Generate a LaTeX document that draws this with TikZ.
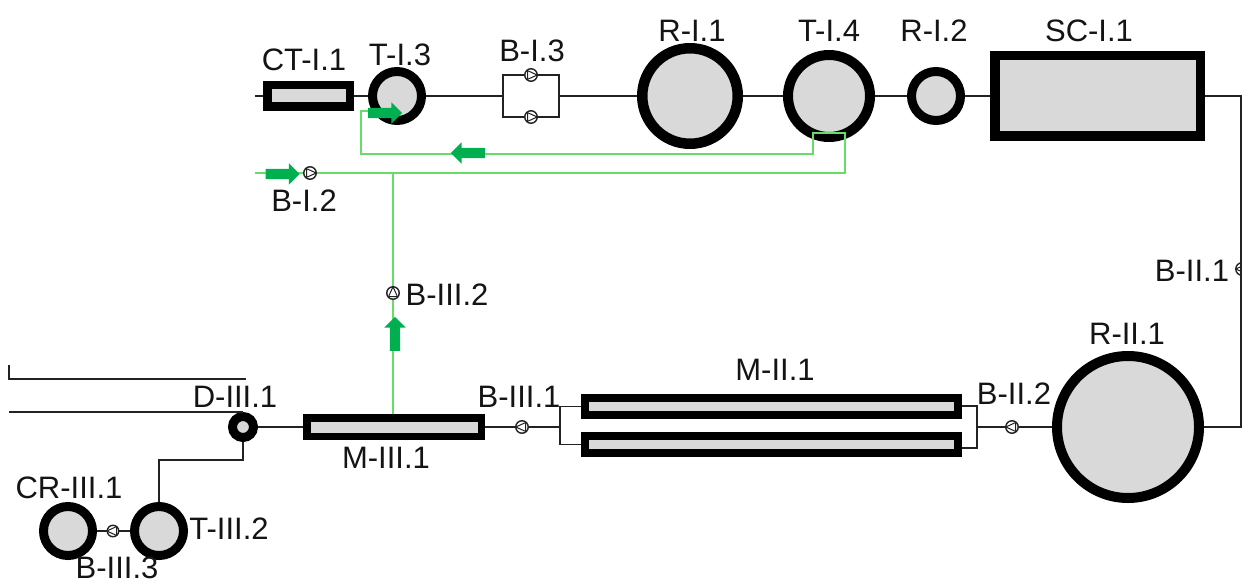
\documentclass[tikz,border=0pt]{standalone}
\usepackage{fontspec}
\setmainfont{Liberation Sans}
\usetikzlibrary{shapes.arrows,calc}
\definecolor{fillgray}{HTML}{D9D9D9}
\definecolor{pipegreen}{HTML}{66DD66}
\definecolor{arrowgreen}{HTML}{00B050}
\definecolor{pipedark}{HTML}{222222}
\tikzset{
  vessel/.style={circle,draw=black,fill=fillgray,inner sep=0pt,line width=#1},
  vessel/.default=9pt,
  tank/.style={rectangle,draw=black,fill=fillgray,inner sep=0pt,line width=#1},
  tank/.default=8.5pt,
  pump/.style={rotate=#1,circle,draw=pipedark,fill=white,inner sep=0pt,line width=1.4pt,minimum size=12.5pt,
    path picture={\draw[line width=1pt,pipedark]
      ($(path picture bounding box.center)+(-3.5,4.4)$)--($(path picture bounding box.center)+(6.2,0)$)--($(path picture bounding box.center)+(-3.5,-4.4)$)--cycle;}},
  pipe/.style={draw=pipedark,line width=1.5pt},
  greenpipe/.style={draw=pipegreen,line width=2.4pt},
  flowarrow/.style={single arrow,fill=arrowgreen,inner sep=5pt,minimum width=21pt,minimum height=34pt,
    single arrow head extend=5.5pt,single arrow head indent=0pt},
  lab/.style={inner sep=0pt,text=black!92,font=\fontsize{31}{36}\selectfont},
}
\begin{document}
\begin{tikzpicture}[x=1pt,y=-1pt]
\useasboundingbox (0,0) rectangle (1242,583);
\clip (0,0) rectangle (1242,583);
\fill[white] (0,0) rectangle (1242,583);
% equipment
\node[tank,minimum width=82.5pt,minimum height=21.5pt] (CT) at (308.5,96) {};
\node[vessel,minimum size=49pt] (TI3) at (397,96) {};
\node[pump=0] (BI3a) at (531,75) {};
\node[pump=0] (BI3b) at (531,117) {};
\node[vessel=10.5pt,minimum size=95.5pt] (RI1) at (690,96) {};
\node[vessel=10pt,minimum size=82pt] (TI4) at (829,96) {};
\node[vessel,minimum size=49pt] (RI2) at (936,96) {};
\node[tank=9.5pt,minimum width=205.5pt,minimum height=80.5pt] (SC) at (1097.5,96) {};
\node[pump=0] (BI2) at (310,173) {};
\node[pump=90] (BIII2) at (393,293) {};
\node[pump=180] (BII1) at (1242,269) {};
\node[vessel=10pt,minimum size=142pt] (RII1) at (1128,427) {};
\node[pump=180] (BII2) at (1012,427) {};
\node[tank=8pt,minimum width=373pt,minimum height=17pt] (MIIa) at (771.5,406.5) {};
\node[tank=8pt,minimum width=373pt,minimum height=17pt] (MIIb) at (771.5,444.5) {};
\node[pump=180] (BIII1) at (522,427) {};
\node[tank=7.5pt,minimum width=174.5pt,minimum height=18.5pt] (MIII) at (394,427) {};
\node[vessel,minimum size=21pt] (DIII) at (243,427) {};
\node[vessel,minimum size=49pt] (TIII2) at (159,531) {};
\node[vessel,minimum size=49pt] (CRIII) at (68,531) {};
\node[pump=180,minimum size=11.5pt] (BIII3) at (113,531) {};
% free ends and junctions
\coordinate (startI) at (255,96);
\coordinate (jL) at (503,96);
\coordinate (jR) at (559,96);
\coordinate (cTR) at (1241,96);
\coordinate (cBR) at (1241,427);
\coordinate (mL) at (560,427);
\coordinate (mR) at (977,427);
\coordinate (mRt) at (977,406);
\coordinate (mRb) at (977,448);
\coordinate (feedA) at (9,412);
\coordinate (feedB) at (9,379);
\coordinate (feedBe) at (246,379);
\coordinate (feedBt) at (9,365);
\coordinate (bend) at (159,460);
\coordinate (gStart) at (255,173);
\coordinate (g1) at (845,173);
\coordinate (g2) at (845,133);
\coordinate (g3) at (813,133);
\coordinate (g4) at (813,154);
\coordinate (g5) at (361,154);
\coordinate (g6) at (361,111);
\coordinate (g7) at (376,111);
\coordinate (gT) at (393,173);
% black pipes
\draw[pipe] (startI) -- (CT);
\draw[pipe] (CT) -- (TI3);
\draw[pipe] (TI3) -- (jL);
\draw[pipe] (jL) |- (BI3a);
\draw[pipe] (BI3a) -| (jR);
\draw[pipe] (jL) |- (BI3b);
\draw[pipe] (BI3b) -| (jR);
\draw[pipe] (jR) -- (RI1);
\draw[pipe] (RI1) -- (TI4);
\draw[pipe] (TI4) -- (RI2);
\draw[pipe] (RI2) -- (SC);
\draw[pipe] (SC.east |- cTR) -- (cTR) -- (cBR) -- (RII1);
\draw[pipe] (RII1) -- (BII2);
\draw[pipe] (BII2) -- (mR);
\draw[pipe] (mRt -| MIIa.east) -- (mRt) -- (mRb) -- (mRb -| MIIb.east);
\draw[pipe] (MIIa.west) -| (mL);
\draw[pipe] (MIIb.west) -| (mL);
\draw[pipe] (mL) -- (BIII1);
\draw[pipe] (BIII1) -- (MIII);
\draw[pipe] (MIII) -- (DIII);
\draw[pipe] (feedA) -- (feedA -| DIII);
\draw[pipe,line width=1.2pt] (feedBt) -- (feedB) -- (feedBe);
\draw[pipe] (DIII.south) |- (bend) -- (TIII2.north);
\draw[pipe] (TIII2) -- (BIII3);
\draw[pipe] (BIII3) -- (CRIII);
% green pipes
\draw[greenpipe] (gStart) -- (BI2);
\draw[greenpipe] (BI2) -- (g1) -- (g2) -- (g3) -- (g4) -- (g5) -- (g6) -- (g7);
\draw[greenpipe] (gT) -- (BIII2);
\draw[greenpipe] (BIII2) -- (BIII2 |- MIII.north);
% flow arrows
\node[flowarrow] (aTI3) at (382.5,113) {};
\node[flowarrow,rotate=180] (aRet) at (470.5,153) {};
\node[flowarrow] (aBI2) at (280,174) {};
\node[flowarrow,rotate=90] (aBIII2) at (395,336.5) {};
% labels
\node[lab] (lCT) at (304,60) {CT-I.1};
\node[lab] (lTI3) at (400,55) {T-I.3};
\node[lab] (lBI3) at (532,51) {B-I.3};
\node[lab] (lBI2) at (304,201) {B-I.2};
\node[lab] (lRI1) at (692,31) {R-I.1};
\node[lab] (lTI4) at (829,31) {T-I.4};
\node[lab] (lRI2) at (934,31) {R-I.2};
\node[lab] (lSC) at (1089,31) {SC-I.1};
\node[lab] (lBII1) at (1192,271) {B-II.1};
\node[lab] (lRII1) at (1127,334) {R-II.1};
\node[lab] (lBII2) at (1014,394) {B-II.2};
\node[lab] (lMII) at (775,370) {M-II.1};
\node[lab] (lBIII1) at (519,397) {B-III.1};
\node[lab] (lMIII) at (386,458) {M-III.1};
\node[lab] (lD) at (235,397) {D-III.1};
\node[lab] (lCR) at (69,488) {CR-III.1};
\node[lab] (lTIII2) at (229,529) {T-III.2};
\node[lab] (lBIII3) at (117,568) {B-III.3};
\node[lab] (lBIII2) at (447,295) {B-III.2};
\end{tikzpicture}
\end{document}
